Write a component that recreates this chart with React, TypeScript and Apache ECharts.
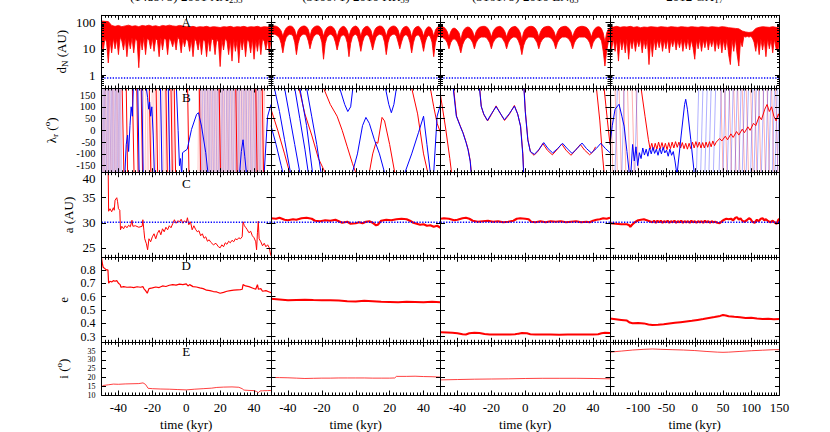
import React, { useEffect, useRef } from 'react';
import * as echarts from 'echarts';

// ---------------- DATA ----------------
const titleMain = ['(148975) 2001 XA', '(310071) 2010 KR', '(316179) 2010 EN', '2012 GX'];
const titleSub = ['255', '59', '65', '17'];
const panelLetters = ['A', 'B', 'C', 'D', 'E'];
const yNames = ['d{sub|N} (AU)', 'λ{sub|r} ({sup|o})', 'a (AU)', 'e', 'i ({sup|o})'];
const xName = 'time (kyr)';

const xRangeShort = [-50, 50];
const xRangeLong = [-150, 150];
const xTicksShort = [-40, -20, 0, 20, 40];
const xTicksLong = [-100, -50, 0, 50, 100, 150];
const yRanges = [[0.32, 190], [-180, 180], [23.1, 40], [0.257, 0.895], [10, 40]];
const yTicks = [[1, 10, 100], [-150, -100, -50, 0, 50, 100, 150], [25, 30, 35, 40], [0.3, 0.4, 0.5, 0.6, 0.7, 0.8], [15, 20, 25, 30, 35]];
const yLabels = [[1, 10, 100], [-150, -100, -50, 0, 50, 100, 150], [25, 30, 35, 40], [0.3, 0.4, 0.5, 0.6, 0.7, 0.8], [10, 15, 20, 25, 30, 35]];
const logMinorTicks = [0.4, 0.5, 0.6, 0.7, 0.8, 0.9, 2, 3, 4, 5, 6, 7, 8, 9, 20, 30, 40, 50, 60, 70, 80, 90];

const hillRadius = 0.77; // AU
const aNeptune = 30.1; // AU

// Row A: distance to Neptune, band envelopes
const dnUpper1 = [115, 112, 110, 78, 72, 78, 70, 75, 80, 72, 76, 70, 78, 74, 80, 72, 76, 70, 78, 74, 80, 75, 72, 78, 74, 70, 68, 72, 66, 70, 68, 72, 66, 70, 68, 65, 70, 68, 72, 66, 70, 68, 72, 66, 70, 68, 72, 66, 70, 68, 72];
const dnLower1 = [
  20, 8, 25, 18, 2.9, 22, 7, 26, 10, 24,
  6, 28, 20, 9, 26, 5, 24, 10, 27, 7,
  25, 20, 1.9, 24, 9, 28, 6, 25, 22, 10,
  26, 8, 24, 21, 5, 27, 9, 25, 23, 6,
  26, 20, 12, 24, 9, 28, 22, 7, 25, 12,
  24, 20, 8, 23, 5, 25, 19, 9, 24, 6,
  22, 20, 5, 23, 8, 25, 21, 6, 24, 18,
  2.1, 23, 9, 25, 20, 6, 22, 3.4, 24, 8,
  21, 2.9, 23, 9, 25, 5, 22, 19, 7, 24,
  4, 22, 8, 25, 6, 23, 20, 9, 24, 7,
  22];
const dnUpper2 = [
  70, 74, 75, 73, 68, 60, 48, 30, 48, 62,
  70, 74, 73, 66, 52, 30, 50, 63, 70, 74,
  74, 68, 55, 30, 52, 64, 71, 75, 74, 67,
  54, 30, 50, 63, 70, 73, 70, 62, 48, 28,
  48, 62, 70, 72, 64, 50, 30, 50, 64, 71,
  74, 68, 54, 30, 52, 64, 71, 72, 64, 50,
  28, 50, 63, 70, 74, 73, 66, 52, 30, 50,
  63, 70, 74, 73, 66, 52, 30, 50, 63, 70,
  72, 65, 50, 28, 50, 63, 70, 72, 64, 50,
  30, 50, 64, 70, 66, 52, 30, 52, 65, 72,
  74];
const dnLower2 = [
  34, 36, 36, 34, 30, 26, 16, 7, 17, 27,
  33, 36, 35, 30, 18, 6, 16, 27, 33, 36,
  36, 31, 20, 10, 19, 28, 34, 37, 36, 30,
  18, 4, 16, 27, 33, 36, 34, 28, 18, 9,
  17, 28, 33, 34, 28, 17, 5, 16, 28, 34,
  36, 30, 18, 8, 18, 28, 34, 34, 28, 17,
  9, 18, 28, 33, 36, 35, 30, 18, 6, 17,
  28, 33, 36, 36, 30, 18, 10, 18, 28, 34,
  34, 28, 17, 7, 17, 28, 33, 34, 28, 17,
  8, 18, 28, 33, 29, 18, 5, 17, 28, 34,
  36];
const dnUpper3 = [
  66, 70, 66, 58, 45, 28, 45, 58, 62, 58,
  50, 40, 22, 42, 56, 64, 68, 66, 58, 45,
  28, 45, 58, 66, 70, 72, 72, 68, 60, 46,
  28, 45, 58, 66, 70, 72, 68, 58, 45, 28,
  45, 58, 66, 70, 72, 66, 56, 42, 22, 42,
  56, 64, 70, 72, 72, 68, 60, 46, 28, 45,
  58, 66, 70, 72, 72, 68, 58, 45, 28, 45,
  58, 66, 70, 72, 72, 66, 58, 45, 28, 45,
  58, 66, 70, 72, 72, 70, 66, 58, 45, 28,
  45, 58, 66, 70, 68, 58, 40, 18, 40, 56,
  64];
const dnLower3 = [
  26, 28, 25, 22, 17, 10, 17, 22, 24, 22,
  18, 12, 7, 14, 20, 25, 27, 26, 22, 17,
  10, 17, 22, 26, 28, 28, 28, 27, 22, 17,
  10, 17, 22, 26, 28, 28, 27, 22, 17, 10,
  17, 22, 26, 28, 28, 26, 20, 13, 6, 13,
  20, 25, 28, 28, 28, 27, 22, 17, 10, 17,
  22, 26, 28, 28, 28, 26, 22, 17, 10, 17,
  22, 26, 28, 28, 28, 26, 22, 17, 10, 17,
  22, 26, 28, 28, 28, 28, 26, 22, 17, 10,
  17, 22, 26, 28, 26, 20, 8, 2.2, 8, 18,
  24];
const dnUpper4 = [
  70, 68, 72, 66, 70, 68, 72, 66, 70, 64,
  68, 66, 70, 68, 66, 70, 68, 66, 70, 68,
  66, 70, 68, 66, 70, 68, 66, 70, 68, 66,
  70, 68, 66, 70, 68, 64, 62, 60, 58, 48,
  44, 42, 44, 60, 66, 70, 68, 66, 70, 66,
  62];
const dnLower4 = [
  20, 10, 24, 8, 22, 3.4, 24, 9, 22, 7,
  25, 4, 22, 10, 24, 8, 22, 12, 24, 7,
  22, 10, 24, 2.5, 22, 5, 24, 9, 22, 11,
  24, 8, 22, 10, 24, 7, 22, 12, 24, 9,
  22, 11, 24, 8, 22, 10, 24, 9, 22, 11,
  4, 22, 10, 24, 8, 22, 11, 24, 9, 22,
  12, 24, 8, 22, 10, 24, 7, 22, 9, 24,
  6, 2.5, 22, 8, 24, 6, 2.2, 20, 12, 30,
  28, 30, 28, 30, 26, 18, 8, 22, 6, 24,
  9, 22, 5, 24, 10, 22, 7, 24, 10, 8,
  22];

// Row B: resonant angle, polylines [time, angle]; hatch = times of fast wraps
const lamRed1 = [
  [[-37.8, 180], [-36.8, -180]], [[-35.4, 180], [-34.6, -180]], [[-31.8, 180], [-30.8, -180]],
  [[-29.2, 180], [-28.4, -180]], [[-26.6, 180], [-25.8, -180]], [[-21.8, 180], [-20.9, -180]],
  [[-17.8, 180], [-16.9, -180]], [[-12, 180], [-11.2, -180]], [[-9, 180], [-8.2, -180]],
  [[-7.1, 180], [-6.3, -180]], [[0.8, 180], [1.6, -180]], [[7.7, 180], [8.5, -180]],
  [[19.4, 180], [20.2, -180]], [[29.2, 180], [30, -180]], [[41, 180], [41.8, -180]], [[44.8, 180], [45.6, -180]],
];
const lamBlue1 = [
  [[-36.2, -180], [-35.4, -60], [-34.6, -20], [-34, -90], [-33.2, 20], [-32.5, 100], [-31.8, 60], [-31.2, 180]],
  [[-28.6, 180], [-27.8, -180]], [[-26.2, 180], [-25.4, -180]],
  [[-23.6, 180], [-22.8, 140], [-22.2, 90], [-21.6, 120], [-21, 60], [-20.3, 100], [-19.5, -20], [-18.8, -180]],
  [[-15.2, 180], [-14.3, -180]], [[-10.6, 180], [-9.7, -180]],
  [[-5.8, 180], [-4.8, 0], [-4, -150], [-3.4, -120], [-2.8, -180]],
  [[-2.6, -180], [-2.2, -95], [0.6, -80], [3.1, 4], [6.1, 68], [7.2, 75], [9, 18], [11.5, -95], [12.8, -180]],
  [[31.5, -180], [32.5, -90], [33.5, -40], [34.5, -110], [35.5, -180]],
  [[46, -180], [48, 60], [50, 110]],
];
const lamRedHatch1 = [-49.6, -48.8, -48.1, -47.2, -46.4, -45.7, -44.8, -44.0, -43.3, -42.4, -41.6, -40.9, -40.0, -39.2, -25.7, -24.3, -23.1, -22.2, -20.6, -19.5, -18.2, -17.1, -15.9, -14.6, -13.5, -12.5, -11.0, -10.1, -8.6, -7.5, 6.9, 7.9, 8.7, 9.6, 10.5, 11.3, 12.1, 12.9, 13.7, 14.5, 15.3, 16.1, 16.9, 17.7, 18.5, 19.3, 20.1, 20.9, 21.6, 22.4, 23.3, 24.1, 24.8, 25.6, 26.5, 27.3, 28.1, 28.9, 29.7, 30.5, 31.3, 32.1, 32.9, 33.7, 34.5, 35.3, 36.1, 36.9, 37.7, 38.5, 39.3, 40.1, 40.9, 41.7, 42.5, 43.3, 44.1, 44.9, 45.7];
const lamBlueHatch1 = [-49.8, -49.0, -48.3, -47.5, -46.6, -45.9, -45.0, -44.2, -43.5, -42.6, -41.8, -41.0, -40.2, -39.5, -38.6, 8.5, 9.5, 10.6, 11.5, 12.6, 13.5, 14.4, 15.5, 16.4, 17.5, 18.5, 19.4, 20.5, 21.4, 22.5, 23.6, 24.5, 25.4, 26.5, 27.4, 28.5, 29.6, 30.5, 31.4, 32.5, 33.6, 34.5, 35.4, 36.5, 37.6, 38.5, 39.6, 40.5, 41.5, 42.6, 43.5];

const lamRed2 = [
  [[-50, 90], [-46, 0], [-42, -100], [-39, -180]],
  [[-33.5, 180], [-30, 70], [-26, -20], [-22, -120], [-18, -180]],
  [[-19, 180], [-15, 110], [-11, 60], [-8, 0], [-5, -70], [-2, -140], [0, -180]],
  [[8, -180], [10, -100], [12, -50], [13, -55], [15.5, 55], [17, 40], [20, -60], [23, -180]],
  [[33, 180], [36.5, 70], [40, -100], [42.5, -180]],
  [[44, 180], [46, 100], [48, 30], [50, -10]],
];
const lamBlue2 = [
  [[-50, 20], [-47, -60], [-44, -150], [-43, -180]],
  [[-48, 180], [-45, 80], [-42, -40], [-38.5, -180]],
  [[-42, 180], [-39, 60], [-36, -60], [-33, -180]],
  [[-36, 180], [-33, 50], [-30, -80], [-28, -180]],
  [[-33, 180], [-29, 20], [-25.5, -180]],
  [[-29, 180], [-26, 60], [-23, -60], [-20.5, -180]],
  [[-9.5, 180], [-6.5, 110], [-4.7, 80], [-3, 100], [-1.7, 180]],
  [[-2, -180], [1, -100], [4, 20], [6, 55], [8, 30], [11, -40], [14, -100], [17, -180]],
  [[17.5, 180], [19.5, 110], [21, 75], [22.5, 110], [24, 180]],
  [[29, -180], [33, -100], [37, -10], [40, 60], [42, -60], [44, -180]],
  [[46, -180], [48, 60], [50, 110]],
];

const lamRed3 = [
  [[-50, 150], [-47, 10], [-44.5, -120], [-43.5, -180]],
  [[-42.3, 180], [-40.5, 60], [-38.3, 18], [-36.6, -12], [-34.8, -52], [-33.6, -84], [-32.4, -132], [-31.8, -180]],
  [[-26.9, 180], [-25.9, 100], [-24.4, 66], [-22.2, 40], [-19.9, 68], [-17.2, 104], [-14.4, 68], [-12.2, 42], [-9.4, 68], [-6.4, 106], [-4.4, 68], [-2.7, 16], [-1.4, -100], [-0.9, -180]],
  [[-0.7, 180], [0.1, 78], [1.6, -42], [3.1, -92], [5.2, -106], [7.6, -88], [10.4, -56], [13, -84], [16, -104], [18.5, -84], [21.5, -58], [24, -84], [27, -106], [29.5, -86], [32.5, -60], [35, -84], [38, -104], [40, -90], [41.5, -70]],
  [[42, 180], [44, 40], [45.5, -100], [46.5, -180]],
  [[46.5, 180], [48.5, 40], [50, -60]],
];
const lamBlue3 = [
  [[-42.5, 180], [-40.7, 61], [-38.5, 20], [-36.8, -10], [-35, -50], [-33.8, -81], [-32.5, -130], [-31.9, -180]],
  [[-27, 180], [-26, 103], [-24.5, 70], [-22.3, 42], [-20, 70], [-17.2, 101], [-14.5, 70], [-12.3, 45], [-9.5, 70], [-6.4, 103], [-4.5, 70], [-2.8, 18], [-1.5, -100], [-1, -180]],
  [[-0.8, 180], [0, 80], [1.5, -40], [3, -90], [5.4, -102], [8, -82], [10.9, -52], [13.5, -78], [16.2, -96], [19, -78], [22, -55], [24.8, -78], [27.6, -98], [30.5, -78], [33.5, -54], [36.2, -78], [39, -96], [41.8, -78], [44.6, -55], [47.4, -78], [50, -95]],
];

const lamRed4 = [
  [[-95, 180], [-88, 60], [-82, -40], [-79, -80], [-76, -55], [-73, -85], [-70, -55], [-67, -80], [-64, -50], [-61, -78], [-58, -52], [-55, -80], [-52, -55], [-49, -82], [-46, -52], [-43, -78], [-40, -50], [-37, -75], [-34, -48], [-31, -72], [-28, -50], [-25, -75], [-22, -52], [-19, -78], [-16, -55], [-13, -80], [-10, -55], [-7, -78], [-4, -50], [-1, -75], [2, -48], [5, -72], [8, -50], [11, -75], [14, -52], [17, -75], [20, -50], [23, -72], [26, -48], [29, -70], [32, -45], [35, -65], [38, -50], [44, -35], [48, -45], [54, -25], [58, -40], [64, -15], [68, -30], [74, -5], [78, -20], [84, 5], [88, -10], [94, 15], [98, 0], [104, 30], [108, 20], [114, 60], [118, 45], [124, 90], [128, 110], [132, 80], [136, 100], [140, 60], [144, 40], [148, 70], [150, 55]],
];
const lamBlue4 = [
  [[-150, -60], [-146, 20], [-141, 90], [-134, 111], [-129, 60], [-125, 18], [-120, -90], [-116, -180]],
  [[-113, -180], [-110, -60], [-107, -130], [-104, -70], [-101, -150], [-98, -95], [-95, -120], [-92, -75], [-89, -105], [-86, -80], [-83, -110], [-80, -75], [-77, -100], [-74, -72], [-71, -98], [-68, -80], [-65, -106], [-62, -76], [-59, -100], [-56, -72], [-53, -96], [-50, -84], [-47, -110], [-44, -80], [-41, -106], [-38, -90], [-35, -130], [-32, -180]],
  [[-31, -180], [-24, -20], [-18, 110], [-16, 132], [-13, 90], [-7, -40], [-1, -180]],
];
const lamRedHatch4 = [-149, -141, -134, -126, -119, -111, -104, 46, 53, 61, 69, 76, 84, 91, 99, 106, 113, 121, 128, 136, 143];
const lamBlueHatch4 = [-141, -129, -106, 3, 10.5, 18, 25, 33, 43, 50, 57.6, 64, 71.2, 78, 84.1, 91, 98.9, 105, 110.6, 118, 125.4, 131, 137.2, 142, 146];

// Row C: semimajor axis [time, AU]
const semiA1 = [[-50, 45], [-46.2, 45], [-45.8, 32.3], [-45, 32.8], [-44, 32.2], [-43, 33.0], [-42.5, 32.5], [-42, 34.5], [-41, 35.0], [-40.5, 34.2], [-40, 32.8], [-39.2, 32.5], [-38.8, 28.6], [-38, 29.3], [-37, 28.8], [-36, 29.4], [-35, 29.0], [-34, 29.5], [-33, 29.2], [-32, 30.5], [-31.5, 29.3], [-30, 29.4], [-28, 29.1], [-26, 29.3], [-25.6, 30.6], [-25, 28.5], [-24.5, 26.8], [-23.5, 25.8], [-22.8, 24.6], [-22, 26.8], [-21, 26.2], [-20, 27.2], [-19, 27.8], [-18, 26.8], [-17, 27.9], [-16, 28.5], [-15, 27.6], [-14, 28.8], [-13, 28.2], [-12, 29.1], [-11, 28.6], [-10, 29.4], [-9, 29.0], [-8, 29.8], [-7, 30.6], [-6, 29.9], [-5, 30.4], [-4, 30.2], [-3, 30.7], [-2, 29.9], [-1, 30.4], [0, 30.0], [0.7, 31.0], [1.5, 29.6], [2.5, 30.2], [3.5, 28.6], [4.5, 29.4], [5.5, 28.7], [6.5, 28.2], [7.5, 28.4], [8.5, 27.4], [9.5, 27.8], [10.5, 26.9], [11.5, 27.2], [12.5, 26.3], [13.5, 26.6], [14.5, 26.1], [16, 25.6], [17.5, 25.9], [19, 25.2], [20, 25.0], [21, 25.6], [22, 25.2], [23, 26.0], [24, 25.7], [25, 26.3], [26, 26.0], [27, 26.5], [28, 26.2], [29, 26.8], [30, 26.6], [31, 27.0], [32, 26.8], [33, 27.2], [33.5, 30.2], [34.3, 29.4], [35, 29.1], [36, 28.6], [37, 28.0], [38, 28.3], [39, 27.4], [40, 27.0], [41, 26.2], [41.5, 24.6], [42, 28.0], [42.5, 30.3], [43, 26.8], [44, 26.2], [45, 25.4], [46, 25.9], [47, 25.2], [48, 25.6], [49, 25.0], [49.8, 23.6], [50, 23.4]];
const semiA2 = [[-50, 30.9], [-47, 30.8], [-45, 31.0], [-42, 30.6], [-40, 30.5], [-37, 30.7], [-35, 30.6], [-32, 30.9], [-29, 31.0], [-26, 30.8], [-24, 30.4], [-21, 30.3], [-18, 30.5], [-15, 30.4], [-12, 30.6], [-10, 30.3], [-8, 30.0], [-5, 30.2], [-3, 29.8], [0, 29.9], [2, 30.1], [4, 29.9], [6, 30.2], [8, 30.3], [10, 30.0], [12, 29.5], [13, 29.6], [15, 30.4], [18, 30.6], [21, 30.5], [24, 30.7], [27, 30.8], [30, 30.7], [32, 30.4], [34, 30.0], [36, 29.8], [38, 29.6], [40, 29.7], [42, 29.4], [44, 29.5], [46, 29.2], [48, 29.4], [50, 29.0]];
const semiA3 = [[-50, 30.8], [-48, 30.9], [-45, 30.8], [-42, 30.5], [-40, 30.6], [-37, 30.9], [-35, 31.0], [-33, 30.8], [-31, 30.4], [-28, 30.2], [-25, 30.3], [-22, 30.4], [-19, 30.2], [-16, 30.3], [-13, 30.1], [-10, 30.2], [-7, 30.4], [-5, 30.8], [-3, 30.9], [0, 30.8], [2, 30.7], [3.5, 30.2], [6, 30.1], [9, 30.3], [12, 30.1], [15, 30.3], [18, 30.2], [21, 30.3], [24, 30.1], [27, 30.2], [30, 30.3], [33, 30.1], [36, 30.2], [38, 30.1], [40, 30.4], [42, 30.6], [44, 30.7], [46, 30.9], [48, 30.8], [50, 31.0]];
const semiA4 = [[-150, 29.9], [-140, 29.8], [-130, 29.7], [-120, 29.7], [-116, 29.5], [-114, 29.2], [-111, 29.6], [-106, 30.1], [-100, 30.5], [-95, 30.6], [-90, 30.7], [-85, 30.5], [-80, 30.3], [-75, 30.1], [-72, 30.4], [-69, 30.0], [-66, 30.4], [-63, 30.1], [-60, 30.4], [-57, 30.0], [-54, 30.3], [-51, 30.1], [-48, 30.4], [-45, 30.0], [-42, 30.3], [-39, 30.1], [-36, 30.4], [-33, 30.0], [-30, 30.3], [-27, 30.1], [-24, 30.4], [-21, 30.0], [-18, 30.3], [-15, 30.1], [-12, 30.3], [-9, 30.0], [-6, 30.4], [-3, 30.1], [0, 30.3], [3, 30.0], [6, 30.3], [9, 30.1], [12, 30.3], [15, 30.0], [18, 30.4], [21, 30.1], [24, 30.3], [27, 30.0], [30, 30.3], [33, 30.1], [36, 30.2], [40, 30.0], [44, 29.9], [48, 30.3], [52, 30.6], [56, 30.8], [60, 30.7], [64, 30.8], [68, 30.5], [72, 31.0], [75, 31.1], [78, 30.6], [81, 30.9], [84, 30.4], [88, 30.2], [92, 30.5], [96, 30.9], [99, 30.7], [102, 30.2], [106, 30.0], [110, 30.6], [113, 30.3], [117, 30.8], [120, 30.9], [123, 30.5], [126, 30.7], [130, 30.3], [134, 30.1], [138, 30.4], [142, 30.0], [145, 29.8], [148, 30.6], [150, 30.8]];

// Row D: eccentricity
const ecc1 = [[-50, 0.89], [-49.5, 0.85], [-49, 0.82], [-48, 0.81], [-47, 0.80], [-46.2, 0.80], [-45.8, 0.70], [-45, 0.715], [-44, 0.71], [-43, 0.72], [-42, 0.715], [-41, 0.72], [-40, 0.70], [-39, 0.69], [-38.5, 0.67], [-37, 0.675], [-35, 0.67], [-33, 0.672], [-31, 0.668], [-29, 0.674], [-27, 0.67], [-25.5, 0.675], [-25, 0.66], [-24, 0.645], [-23, 0.625], [-22, 0.66], [-20, 0.665], [-18, 0.672], [-16, 0.668], [-14, 0.68], [-12, 0.676], [-10, 0.685], [-8, 0.69], [-6, 0.686], [-4, 0.694], [-2, 0.69], [0, 0.695], [1, 0.68], [2, 0.69], [4, 0.675], [6, 0.672], [8, 0.665], [10, 0.66], [12, 0.648], [14, 0.645], [16, 0.638], [18, 0.635], [20, 0.625], [22, 0.632], [24, 0.64], [26, 0.645], [28, 0.648], [30, 0.65], [32, 0.652], [33, 0.655], [33.5, 0.69], [35, 0.68], [37, 0.675], [39, 0.665], [41, 0.655], [42, 0.69], [42.6, 0.655], [44, 0.66], [45, 0.64], [47, 0.645], [49, 0.635], [50, 0.63]];
const ecc2 = [[-50, 0.583], [-45, 0.578], [-40, 0.572], [-35, 0.575], [-30, 0.576], [-25, 0.574], [-20, 0.573], [-15, 0.572], [-10, 0.57], [-5, 0.566], [0, 0.564], [5, 0.568], [10, 0.566], [15, 0.562], [20, 0.56], [25, 0.558], [30, 0.562], [35, 0.56], [40, 0.558], [45, 0.561], [50, 0.557]];
const ecc3 = [[-50, 0.332], [-46, 0.33], [-43, 0.328], [-40, 0.325], [-37, 0.318], [-35, 0.316], [-33, 0.325], [-30, 0.328], [-27, 0.326], [-24, 0.32], [-21, 0.316], [-18, 0.315], [-15, 0.316], [-12, 0.315], [-9, 0.316], [-6, 0.317], [-4, 0.322], [-2, 0.326], [1, 0.325], [3, 0.318], [6, 0.316], [10, 0.315], [15, 0.315], [20, 0.314], [25, 0.315], [30, 0.315], [35, 0.316], [40, 0.316], [43, 0.318], [45, 0.325], [47, 0.328], [50, 0.326]];
const ecc4 = [[-150, 0.435], [-140, 0.43], [-130, 0.425], [-120, 0.42], [-115, 0.405], [-110, 0.40], [-100, 0.402], [-90, 0.399], [-82, 0.39], [-75, 0.387], [-65, 0.389], [-55, 0.393], [-45, 0.398], [-35, 0.403], [-25, 0.408], [-15, 0.413], [-5, 0.418], [5, 0.425], [15, 0.432], [25, 0.44], [35, 0.447], [45, 0.455], [50, 0.462], [55, 0.458], [60, 0.452], [70, 0.448], [80, 0.445], [90, 0.44], [100, 0.442], [110, 0.436], [120, 0.432], [130, 0.434], [140, 0.43], [150, 0.432]];

// Row E: inclination
const incl1 = [[-50, 14.6], [-49, 15.4], [-46, 15.8], [-43, 16.2], [-40, 16.1], [-36, 16.3], [-32, 16.4], [-28, 16.5], [-25.5, 16.9], [-24, 16.0], [-22.5, 13.8], [-20, 13.6], [-15, 13.4], [-10, 13.3], [-5, 13.1], [0, 12.9], [5, 13.3], [10, 13.6], [15, 13.9], [18, 14.3], [22, 14.5], [27, 14.6], [31, 14.4], [33, 13.6], [34, 12.8], [37, 12.6], [40, 12.5], [41.5, 12.0], [42.5, 11.3], [43.5, 12.3], [45, 12.4], [48, 12.5], [50, 12.6]];
const incl2 = [[-50, 20.0], [-45, 19.9], [-40, 19.8], [-35, 19.6], [-30, 19.4], [-25, 19.5], [-20, 19.6], [-15, 19.6], [-10, 19.7], [-5, 19.7], [0, 19.7], [5, 19.7], [10, 19.6], [15, 19.6], [20, 19.6], [23, 19.7], [24, 20.6], [30, 20.6], [35, 20.7], [40, 20.5], [45, 20.4], [50, 20.2]];
const incl3 = [[-50, 18.6], [-40, 18.8], [-30, 19.0], [-20, 19.1], [-10, 19.2], [0, 19.4], [10, 19.5], [20, 19.5], [30, 19.5], [40, 19.4], [50, 19.2]];
const incl4 = [[-150, 34.4], [-130, 35.0], [-110, 35.6], [-90, 36.0], [-75, 36.2], [-60, 36.0], [-40, 35.8], [-20, 35.6], [0, 35.3], [20, 34.8], [40, 34.4], [50, 34.3], [60, 34.4], [80, 34.8], [100, 35.2], [120, 35.5], [140, 35.8], [150, 35.8]];

// ---------------- LAYOUT / STYLE ----------------
const FONT = 'Liberation Serif';
const RED = '#ff0000';
const BLUE = '#0000ff';
const COL_LEFT = [101.5, 271, 440.5, 610];
const COL_W = 169.5;
const ROW_TOP = [15.3, 88, 172.7, 257.3, 342.3];
const ROW_H = [72.7, 84.7, 84.6, 85, 55.4];
const NAME_GAP = [32, 42, 27, 32, 30];
const LABEL_SIZE = [13, 10.5, 13, 12, 8];
const SHIFT_DOWN_ROW = 2; // top label of row C sits just below the boundary

const onGrid = (start: number, step: number, vals: number[]) => vals.map((v, i) => [start + i * step, v]);

function joinLines(lines: number[][][]) {
  const out: any[] = [];
  lines.forEach((line, i) => {
    if (i > 0) out.push([line[0][0], null]);
    line.forEach((p) => out.push(p));
  });
  return out;
}

function hatch(times: number[], span: number, dir: number) {
  return times.map((t) => (dir > 0 ? [[t, -180], [t + span, 180]] : [[t, 180], [t + span, -180]]));
}

function buildOption() {
  const grid: any[] = [];
  const xAxis: any[] = [];
  const yAxis: any[] = [];
  const series: any[] = [];
  const txt = { fontFamily: FONT, fontSize: 13, color: '#000' };
  const lineSt = { color: '#000', width: 1 };

  for (let r = 0; r < 5; r++) {
    for (let c = 0; c < 4; c++) {
      const g = r * 4 + c;
      grid.push({ left: COL_LEFT[c], top: ROW_TOP[r], width: COL_W, height: ROW_H[r], containLabel: false });
      const xr = c < 3 ? xRangeShort : xRangeLong;
      const xt = c < 3 ? xTicksShort : xTicksLong;
      const minorInt = c < 3 ? 2 : 5;
      const xb = { type: 'value', gridIndex: g, min: xr[0], max: xr[1], z: 10, splitLine: { show: false } };
      for (const pos of ['bottom', 'top']) {
        xAxis.push({
          ...xb, position: pos,
          axisLine: { show: true, onZero: false, lineStyle: lineSt },
          axisTick: { show: true, inside: true, length: 4.5, customValues: xt, lineStyle: lineSt },
          axisLabel: { show: pos === 'bottom' && r === 4, customValues: xt, margin: 6, showMinLabel: true, showMaxLabel: true, ...txt },
          name: pos === 'bottom' && r === 4 ? xName : '',
          nameLocation: 'middle', nameGap: 23, nameMoveOverlap: false, nameTextStyle: txt,
        });
        xAxis.push({
          ...xb, position: pos, interval: minorInt,
          axisLine: { show: false, onZero: false },
          axisTick: { show: true, inside: true, length: 2.5, lineStyle: lineSt },
          axisLabel: { show: false },
        });
      }
      const isLog = r === 0;
      const yb: any = { type: isLog ? 'log' : 'value', logBase: 10, gridIndex: g, min: yRanges[r][0], max: yRanges[r][1], z: 10, splitLine: { show: false } };
      const topLabel = yLabels[r][yLabels[r].length - 1];
      for (const pos of ['left', 'right']) {
        yAxis.push({
          ...yb, position: pos,
          axisLine: { show: true, onZero: false, lineStyle: lineSt },
          axisTick: { show: true, inside: true, length: 4.5, customValues: yTicks[r], lineStyle: lineSt },
          axisLabel: {
            show: pos === 'left' && c === 0, customValues: yLabels[r], margin: 6,
            showMinLabel: true, showMaxLabel: true, ...txt, fontSize: LABEL_SIZE[r],
            formatter: (v: number) => (r === SHIFT_DOWN_ROW && v === topLabel ? `{low|${v}}` : `${v}`),
            rich: { low: { fontFamily: FONT, fontSize: LABEL_SIZE[r], color: '#000', padding: [11, 0, 0, 0] } },
          },
          name: pos === 'left' && c === 0 ? yNames[r] : '',
          nameLocation: 'middle', nameGap: NAME_GAP[r], nameMoveOverlap: false,
          nameTextStyle: {
            ...txt,
            rich: {
              sub: { fontFamily: FONT, fontSize: 9, color: '#000', padding: [8, 0, 0, 0] },
              sup: { fontFamily: FONT, fontSize: 9, color: '#000', padding: [0, 0, 8, 0] },
            },
          },
        });
        yAxis.push({
          ...yb, position: pos, show: isLog,
          axisLine: { show: false, onZero: false },
          axisTick: { show: true, inside: true, length: 2.5, customValues: logMinorTicks, lineStyle: lineSt },
          axisLabel: { show: false },
        });
      }
    }
  }

  const ln = (g: number, data: any[], color: string, width: number, extra: any = {}) => ({
    type: 'line', xAxisIndex: 4 * g, yAxisIndex: 4 * g, data, symbol: 'none', showSymbol: false,
    silent: true, animation: false, connectNulls: false,
    lineStyle: { color, width, ...(extra.lineStyle || {}) }, itemStyle: { color },
    ...Object.fromEntries(Object.entries(extra).filter(([k]) => k !== 'lineStyle')),
  });
  const dotted = { lineStyle: { type: [1.3, 1.5] } };

  // Row A
  const upper = [onGrid(-50, 2, dnUpper1), onGrid(-50, 1, dnUpper2), onGrid(-50, 1, dnUpper3), onGrid(-150, 6, dnUpper4)];
  const lower = [onGrid(-50, 1, dnLower1), onGrid(-50, 1, dnLower2), onGrid(-50, 1, dnLower3), onGrid(-150, 3, dnLower4)];
  for (let c = 0; c < 4; c++) {
    const xr = c < 3 ? xRangeShort : xRangeLong;
    series.push(ln(c, upper[c], RED, 0.8, { areaStyle: { color: RED, opacity: 1, origin: 'start' } }));
    series.push(ln(c, lower[c], RED, 0.8, { areaStyle: { color: '#ffffff', opacity: 1, origin: 'start' } }));
    series.push(ln(c, [[xr[0], hillRadius], [xr[1], hillRadius]], BLUE, 1.5, dotted));
  }

  // Row B
  const redHatch = [hatch(lamRedHatch1, 0.5, 1), [], [], hatch(lamRedHatch4, 4, -1)];
  const blueHatch = [hatch(lamBlueHatch1, 0.5, -1), [], [], hatch(lamBlueHatch4, 4, 1)];
  const redB = [lamRed1, lamRed2, lamRed3, lamRed4];
  const blueB = [lamBlue1, lamBlue2, lamBlue3, lamBlue4];
  for (let c = 0; c < 4; c++) {
    const g = 4 + c;
    if (redHatch[c].length) series.push(ln(g, joinLines(redHatch[c]), RED, 0.7, { lineStyle: { opacity: c === 0 ? 0.3 : 0.45 } }));
    if (blueHatch[c].length) series.push(ln(g, joinLines(blueHatch[c]), BLUE, 0.7, { lineStyle: { opacity: c === 0 ? 0.3 : 0.45 } }));
    series.push(ln(g, joinLines(redB[c]), RED, 1));
    series.push(ln(g, joinLines(blueB[c]), BLUE, 1));
  }

  // Row C, D, E
  const aData = [semiA1, semiA2, semiA3, semiA4];
  const eData = [ecc1, ecc2, ecc3, ecc4];
  const iData = [incl1, incl2, incl3, incl4];
  for (let c = 0; c < 4; c++) {
    const xr = c < 3 ? xRangeShort : xRangeLong;
    series.push(ln(8 + c, aData[c], RED, c === 0 ? 1 : 2.2));
    series.push(ln(8 + c, [[xr[0], aNeptune], [xr[1], aNeptune]], BLUE, 1.5, dotted));
    series.push(ln(12 + c, eData[c], RED, c === 0 ? 1.2 : 2));
    series.push(ln(16 + c, iData[c], RED, 1, { lineStyle: { opacity: 0.75 } }));
  }

  const graphic: any[] = [];
  for (let c = 0; c < 4; c++) {
    graphic.push({
      type: 'text', x: COL_LEFT[c] + COL_W / 2, y: -4, z: 20,
      style: {
        text: `${titleMain[c]}{sub|${titleSub[c]}}`, align: 'center', verticalAlign: 'middle',
        font: `13px ${FONT}`, fill: '#000',
        rich: { sub: { fontFamily: FONT, fontSize: 9, fill: '#000', padding: [8, 0, 0, 0] } },
      },
    });
  }
  const letterY = [22.7, 97.3, 183.3, 265, 351.7];
  for (let r = 0; r < 5; r++) {
    graphic.push({
      type: 'text', x: COL_LEFT[0] + COL_W / 2, y: letterY[r], z: 20,
      style: { text: panelLetters[r], align: 'center', verticalAlign: 'middle', font: `13px ${FONT}`, fill: '#000' },
    });
  }

  return { animation: false, backgroundColor: '#ffffff', textStyle: { fontFamily: FONT }, grid, xAxis, yAxis, series, graphic };
}

export default function App() {
  const ref = useRef<HTMLDivElement>(null);
  useEffect(() => {
    const chart = echarts.init(ref.current as HTMLDivElement, null, { renderer: 'svg' });
    chart.setOption(buildOption() as any);
    return () => chart.dispose();
  }, []);
  return <div ref={ref} style={{ position: 'absolute', left: 0, top: 0, width: 830, height: 432, background: '#fff' }} />;
}
